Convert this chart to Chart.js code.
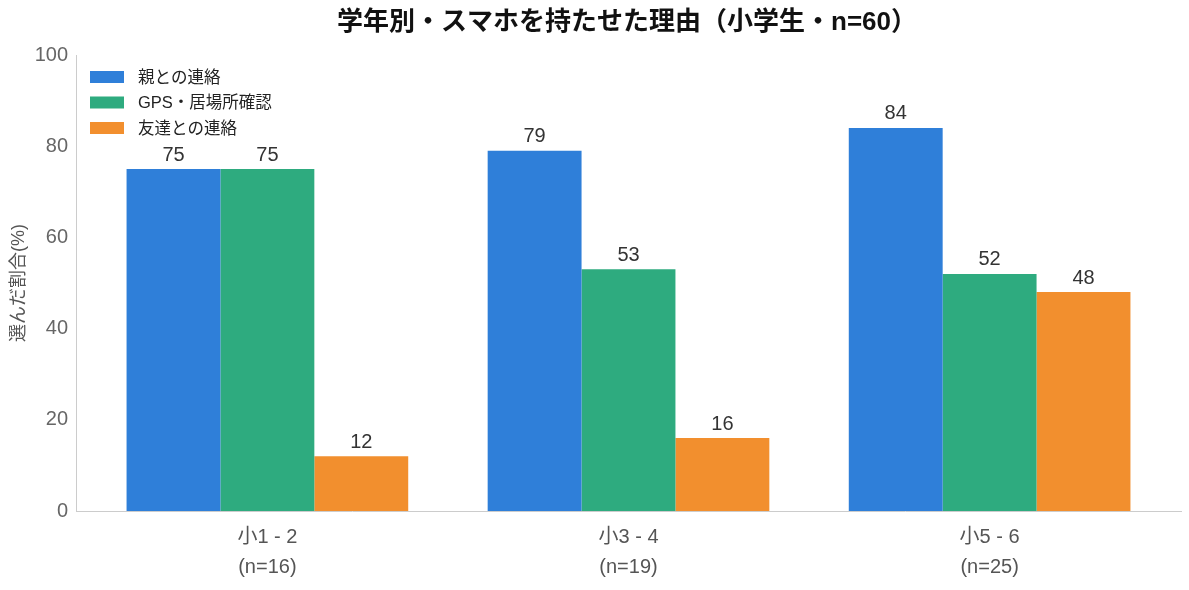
<!DOCTYPE html>
<html>
<head>
<meta charset="utf-8">
<script src="https://cdn.jsdelivr.net/npm/chart.js@4"></script>
<style>
  html, body { margin: 0; padding: 0; background: #fff; }
  #wrap { width: 1189px; height: 590px; }
</style>
</head>
<body>
<div id="wrap"><canvas id="c" width="1189" height="590"></canvas></div>
<script>
// ── data ─────────────────────────────────────────────
const grades  = ['小1 - 2', '小3 - 4', '小5 - 6'];
const nCounts = ['(n=16)', '(n=19)', '(n=25)'];
const parents = [75, 79, 84];
const gps     = [75, 53, 52];
const friends = [12, 16, 48];
const yTicks  = [0, 20, 40, 60, 80, 100];

const FONT = "'Liberation Sans', 'Noto Sans CJK JP', sans-serif";
const COLORS = ['#2f7fd9', '#2eab7f', '#f28f2e'];

const toPoints = arr => arr.map((v, i) => ({ x: i, y: v }));

// ── value labels above bars + legend inside plot ─────
const annotate = {
    id: 'annotate',
    afterDatasetsDraw(chart) {
        const ctx = chart.ctx;
        ctx.save();
        ctx.font = `20px ${FONT}`;
        ctx.fillStyle = '#333';
        ctx.textAlign = 'center';
        ctx.textBaseline = 'bottom';
        chart.data.datasets.forEach((ds, di) => {
            chart.getDatasetMeta(di).data.forEach((bar, i) => {
                ctx.fillText(String(ds.data[i].y), bar.x, bar.y - 4);
            });
        });

        // legend
        const area = chart.chartArea;
        ctx.font = `16.5px ${FONT}`;
        ctx.textAlign = 'left';
        ctx.textBaseline = 'middle';
        chart.data.datasets.forEach((ds, di) => {
            const y = area.top + 22 + di * 25.5;
            ctx.fillStyle = ds.backgroundColor;
            ctx.fillRect(area.left + 14, y - 6, 34, 12);
            ctx.fillStyle = '#222';
            ctx.fillText(ds.label, area.left + 62, y + 1);
        });

        // title
        ctx.font = `bold 26px ${FONT}`;
        ctx.fillStyle = '#111';
        ctx.textAlign = 'center';
        ctx.fillText('学年別・スマホを持たせた理由（小学生・n=60）', 627, 23);
        ctx.restore();
    }
};

new Chart(document.getElementById('c'), {
    type: 'bar',
    data: {
        datasets: [
            { label: '親との連絡',         data: toPoints(parents), backgroundColor: COLORS[0] },
            { label: 'GPS・居場所確認',    data: toPoints(gps),     backgroundColor: COLORS[1] },
            { label: '友達との連絡',       data: toPoints(friends), backgroundColor: COLORS[2] }
        ]
    },
    options: {
        responsive: false,
        animation: false,
        layout: { padding: { top: 55, right: 8, left: 0, bottom: 0 } },
        datasets: { bar: { categoryPercentage: 0.78, barPercentage: 1.0 } },
        plugins: {
            legend: { display: false },
            title: { display: false },
            tooltip: { enabled: false }
        },
        scales: {
            x: {
                type: 'linear',
                offset: false,
                min: -0.53,
                max: 2.53,
                grid: { display: false, drawTicks: true, tickLength: 6, tickColor: '#333', offset: false },
                border: { color: '#ccc' },
                afterBuildTicks: s => { s.ticks = grades.map((_, i) => ({ value: i })); },
                afterFit: s => { s.height = 79; },
                ticks: {
                    color: '#555',
                    font: { family: FONT, size: 20, lineHeight: 1.5 },
                    padding: 5,
                    maxRotation: 0,
                    callback: v => [grades[v], nCounts[v]]
                }
            },
            y: {
                min: 0,
                max: 100,
                grid: { display: false, drawTicks: true, tickLength: 4, tickColor: '#ccc' },
                border: { color: '#ccc' },
                afterBuildTicks: s => { s.ticks = yTicks.map(v => ({ value: v })); },
                afterFit: s => { s.width = 76; },
                ticks: {
                    color: '#666',
                    font: { family: FONT, size: 20 },
                    padding: 4
                },
                title: {
                    display: true,
                    text: '選んだ割合(%)',
                    color: '#555',
                    font: { family: FONT, size: 18 },
                    padding: { bottom: 0, top: 8 }
                }
            }
        }
    },
    plugins: [annotate]
});
</script>
</body>
</html>
